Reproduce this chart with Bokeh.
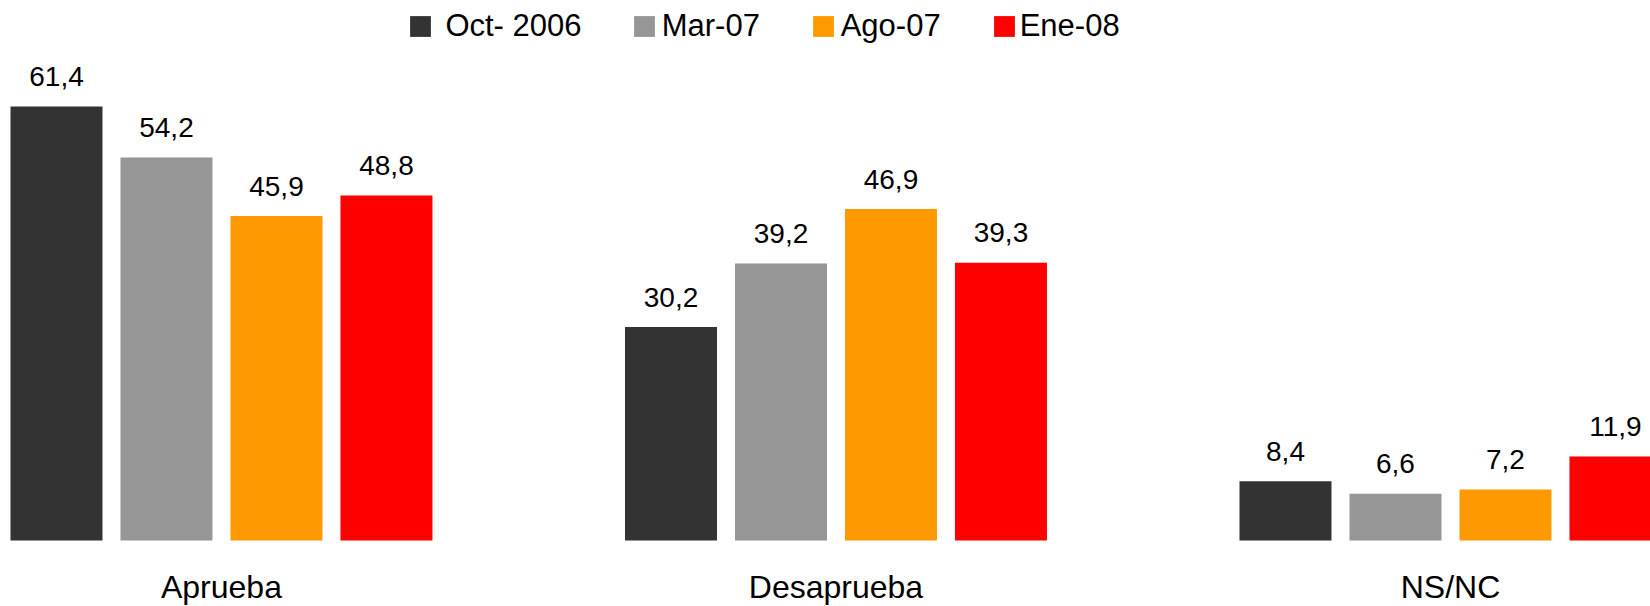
from bokeh.plotting import figure
from bokeh.models import ColumnDataSource, Range1d, Legend, LegendItem
from bokeh.transform import dodge
from bokeh.core.properties import value
from bokeh.embed import file_html
from bokeh.resources import INLINE

categories = ["Aprueba", "Desaprueba", "NS/NC"]
series = ["Oct- 2006", "Mar-07", "Ago-07", "Ene-08"]
colors = ["#333333", "#969696", "#FF9900", "#FF0000"]
oct_2006 = [61.4, 30.2, 8.4]
mar_07 = [54.2, 39.2, 6.6]
ago_07 = [45.9, 46.9, 7.2]
ene_08 = [48.8, 39.3, 11.9]
values = [oct_2006, mar_07, ago_07, ene_08]

FONT = "Liberation Sans"
group_x = [i + 0.5 for i in range(len(categories))]
step = 0.179
bar_w = 0.1497

p = figure(width=1650, height=606, output_backend="svg", toolbar_location=None,
           x_range=Range1d(0.1404, 2.8255), y_range=Range1d(-9.338, 76.40),
           min_border=0, min_border_left=0, min_border_right=0, min_border_top=0,
           min_border_bottom=0)
p.outline_line_color = None
p.xgrid.visible = False
p.ygrid.visible = False
p.xaxis.visible = False
p.yaxis.visible = False
p.background_fill_color = "white"
p.border_fill_color = "white"

renderers = []
for j, (name, col, vals) in enumerate(zip(series, colors, values)):
    src = ColumnDataSource(dict(x=group_x, top=vals,
                                lab=[f"{v:.1f}".replace(".", ",") for v in vals]))
    off = (j - 1.5) * step
    r = p.vbar(x=dodge("x", off, range=p.x_range), top="top", width=bar_w, bottom=0,
               source=src, fill_color=col, line_color=None)
    p.text(x=dodge("x", off, range=p.x_range), y="top", text="lab", source=src,
           text_align="center", text_baseline="alphabetic", y_offset=-30,
           text_font=value(FONT), text_font_size="28px", text_color="black")
    renderers.append(r)

# category labels under each group
cat_src = ColumnDataSource(dict(x=group_x, y=[0] * len(categories), t=categories))
p.text(x="x", y="y", text="t", source=cat_src, text_align="center",
       text_baseline="alphabetic", y_offset=47, text_font=value(FONT),
       text_font_size="32px", text_color="black")

# legend entries (spread like the original)
legend_x = [407.4, 630.7, 809.7, 990.7]
standoffs = [12, 5, 5, 3]
for name, r, lx, so in zip(series, renderers, legend_x, standoffs):
    lg = Legend(items=[LegendItem(label=name, renderers=[r])], orientation="horizontal",
                location=(lx, 562), glyph_width=26, glyph_height=26, label_standoff=so,
                padding=0, margin=0, border_line_color=None, background_fill_alpha=0,
                label_text_font=FONT, label_text_font_size="31px",
                label_text_color="black")
    p.add_layout(lg)

open("out.html", "w").write(file_html(p, INLINE))
